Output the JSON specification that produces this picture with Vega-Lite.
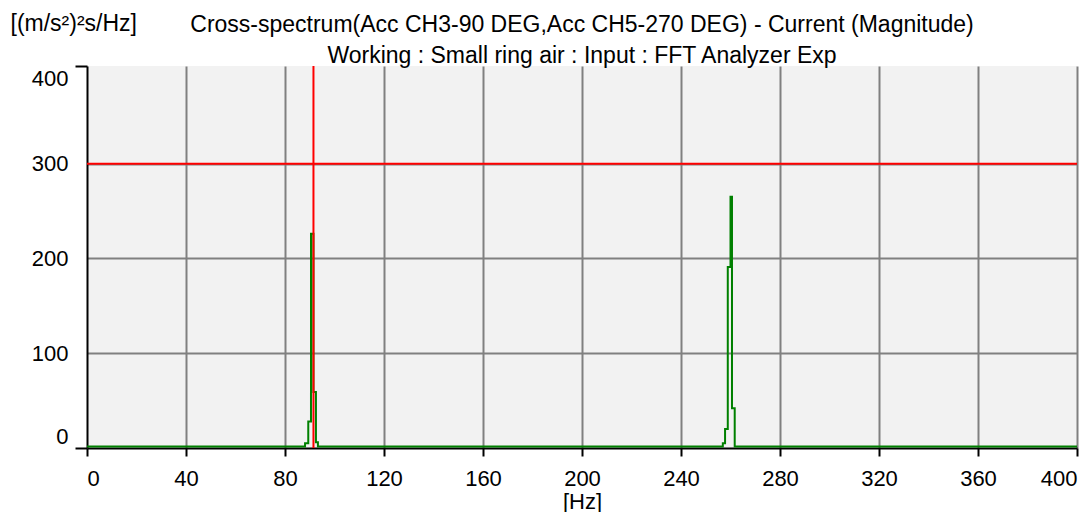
{
  "$schema": "https://vega.github.io/schema/vega-lite/v6.json",
  "width": 990,
  "height": 382,
  "autosize": {"type": "none"},
  "padding": {"left": 87, "top": 66, "right": 6, "bottom": 64},
  "background": "#ffffff",
  "title": {
    "text": "Cross-spectrum(Acc CH3-90 DEG,Acc CH5-270 DEG) - Current (Magnitude)",
    "subtitle": "Working : Small ring air : Input : FFT Analyzer Exp",
    "anchor": "middle",
    "frame": "group",
    "font": "Liberation Sans",
    "fontSize": 23,
    "fontWeight": "normal",
    "color": "#000000",
    "subtitleFont": "Liberation Sans",
    "subtitleFontSize": 23,
    "subtitleColor": "#000000",
    "subtitlePadding": 8,
    "offset": -56
  },
  "config": {
    "view": {"fill": "#f2f2f2", "stroke": null},
    "axis": {
      "labelFont": "Liberation Sans",
      "labelFontSize": 22,
      "labelColor": "#000000",
      "titleFont": "Liberation Sans",
      "titleFontSize": 22,
      "titleFontWeight": "normal",
      "titleColor": "#000000"
    }
  },
  "datasets": {
    "spectrum": [
      {"hz": 0, "amp": 1.5},
      {"hz": 88.1, "amp": 5},
      {"hz": 89.4, "amp": 28},
      {"hz": 90.5, "amp": 226},
      {"hz": 91.5, "amp": 59},
      {"hz": 92.5, "amp": 6},
      {"hz": 93.3, "amp": 1.5},
      {"hz": 256.9, "amp": 5},
      {"hz": 257.8, "amp": 20},
      {"hz": 258.9, "amp": 191},
      {"hz": 260.0, "amp": 265},
      {"hz": 260.6, "amp": 42},
      {"hz": 261.7, "amp": 1.5},
      {"hz": 400, "amp": 1.5}
    ],
    "hline": [{"level": 300}],
    "vline": [{"freq": 91.5}]
  },
  "layer": [
    {
      "data": {"name": "hline"},
      "mark": {"type": "rule", "color": "#ff0000", "strokeWidth": 2},
      "encoding": {
        "y": {
          "field": "level",
          "type": "quantitative",
          "scale": {"domain": [0, 403], "nice": false, "zero": false},
          "axis": {
            "values": [0, 100, 200, 300, 400, 403],
            "title": "[(m/s²)²s/Hz]",
            "titleFontSize": 23,
            "titleAngle": 0,
            "titleAlign": "left",
            "titleBaseline": "alphabetic",
            "titleX": -77,
            "titleY": -36,
            "domainColor": "#000000",
            "domainWidth": 2,
            "ticks": true,
            "tickSize": 12,
            "tickWidth": 2,
            "tickColor": {"condition": {"test": "datum.value === 0 || datum.value === 403", "value": "#000000"}, "value": "transparent"},
            "grid": true,
            "gridWidth": 2,
            "gridColor": {"condition": {"test": "datum.value === 0 || datum.value >= 400", "value": "transparent"}, "value": "#808080"},
            "labelExpr": "datum.value === 403 ? '' : datum.label",
            "labelBaseline": {"condition": [{"test": "datum.value === 400", "value": "top"}, {"test": "datum.value === 0", "value": "bottom"}], "value": "middle"},
            "labelPadding": 7,
            "labelOverlap": false,
            "labelBound": false
          }
        }
      }
    },
    {
      "data": {"name": "spectrum"},
      "mark": {"type": "line", "color": "#008000", "strokeWidth": 2, "interpolate": "step-after"},
      "encoding": {
        "x": {
          "field": "hz",
          "type": "quantitative",
          "scale": {"domain": [0, 400], "nice": false},
          "axis": {
            "values": [0, 40, 80, 120, 160, 200, 240, 280, 320, 360, 400],
            "title": "[Hz]",
            "titleBaseline": "alphabetic",
            "titleY": 60,
            "domainColor": "#000000",
            "domainWidth": 2,
            "tickColor": "#000000",
            "tickSize": 8,
            "tickWidth": 2,
            "grid": true,
            "gridWidth": 2,
            "gridColor": {"condition": {"test": "datum.value === 0", "value": "transparent"}, "value": "#808080"},
            "labelFlush": true,
            "labelPadding": 12,
            "labelOverlap": false
          }
        },
        "y": {"field": "amp", "type": "quantitative"}
      }
    },
    {
      "data": {"name": "vline"},
      "mark": {"type": "rule", "color": "#ff0000", "strokeWidth": 2},
      "encoding": {
        "x": {"field": "freq", "type": "quantitative"}
      }
    }
  ]
}
